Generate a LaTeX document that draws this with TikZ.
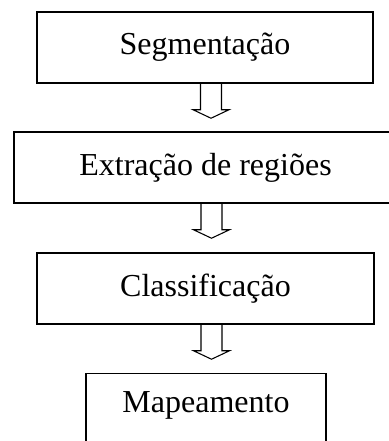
\documentclass[tikz,border=0pt]{standalone}
\usepackage{fontspec}
\setmainfont{Liberation Serif}
\usetikzlibrary{calc}

\tikzset{
	etapa/.style={draw=black, line width=1.1pt, inner sep=0pt, minimum height=53.25pt, font=\fontsize{24}{29}\selectfont},
	seta/.style={draw=black, line width=0.8pt, line join=miter}
}

\begin{document}
\begin{tikzpicture}[x=0.75pt, y=-0.75pt]
	\useasboundingbox (0,0) rectangle (388,441);
	\node[etapa, minimum width=252pt] (seg) at (205,47.5) {Segmenta\c{c}\~ao};
	\node[etapa, minimum width=287.25pt] (ext) at (205.5,167.5) {Extra\c{c}\~ao de regi\~oes};
	\node[etapa, minimum width=252.75pt] (cla) at (205.5,288.5) {Classifica\c{c}\~ao};
	\node[etapa, minimum width=180pt, anchor=north, text height=29pt, text depth=50pt] (map) at (206,373) {Mapeamento};
	% setas vazadas entre as etapas
	\foreach \a in {seg,ext,cla}
		\draw[seta] ($(\a.south)+(-4.5,0)$) -- ++(0,26) -- ++(-7.5,0) -- ++(18,8.5) -- ++(18,-8.5) -- ++(-7.5,0) -- ++(0,-26);
\end{tikzpicture}
\end{document}
